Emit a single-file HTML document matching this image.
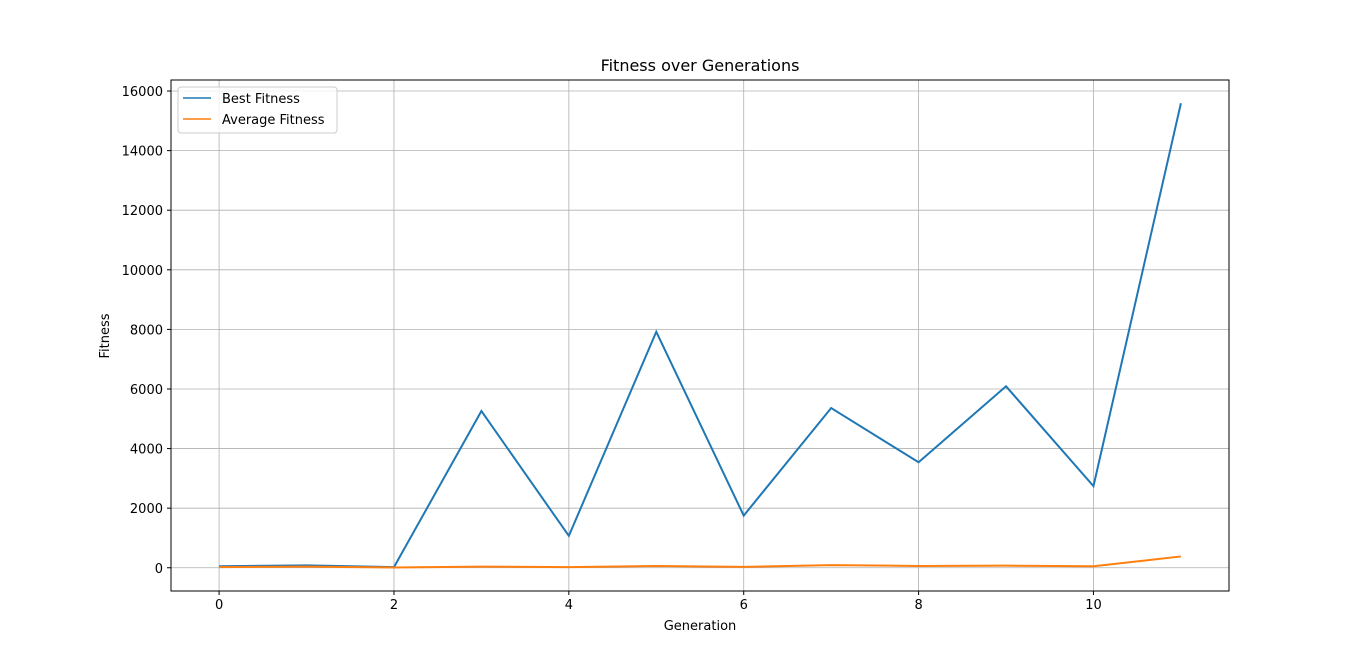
<!DOCTYPE html>
<html><head><meta charset="utf-8"><style>
body{margin:0;background:#fff;}
svg text{font-family:"DejaVu Sans","Liberation Sans",sans-serif;}
</style></head><body>
<svg id="chart" width="1366" height="663" xmlns="http://www.w3.org/2000/svg">
<rect width="1366" height="663" fill="#fff"/>
<g id="grid"></g>
<g id="series"></g>
<rect x="171" y="80" width="1058" height="511" fill="none" stroke="#000" stroke-width="1"/>
<g id="ticks"></g>
<text x="700" y="71" font-size="16" text-anchor="middle">Fitness over Generations</text>
<text x="700" y="630" font-size="13" text-anchor="middle">Generation</text>
<text x="109" y="336" font-size="13" text-anchor="middle" transform="rotate(-90 109 336)">Fitness</text>
<g>
<rect x="178" y="87" width="159" height="46" rx="3" fill="#fff" fill-opacity="0.8" stroke="#ccc"/>
<g><line x1="183" y1="98" x2="211" y2="98" stroke="#1f77b4" stroke-width="1.5"/><text x="222" y="103" font-size="13">Best Fitness</text></g>
<g><line x1="183" y1="119" x2="211" y2="119" stroke="#ff7f0e" stroke-width="1.5"/><text x="222" y="124" font-size="13">Average Fitness</text></g>
</g>
</svg>
<script>
const generations=[0,1,2,3,4,5,6,7,8,9,10,11];
const bestFitness=[50,80,20,5260,1070,7920,1750,5360,3540,6090,2740,15590];
const avgFitness=[20,40,10,40,20,60,30,90,60,70,50,380];
const xTicks=[0,2,4,6,8,10];
const yTicks=[0,2000,4000,6000,8000,10000,12000,14000,16000];
const ns="http://www.w3.org/2000/svg";
const L=171,R=1229,T=80,B=591;
const xMin=-0.55,xMax=11.55,yMin=-780,yMax=16370;
const xs=v=>L+(v-xMin)/(xMax-xMin)*(R-L);
const ys=v=>B-(v-yMin)/(yMax-yMin)*(B-T);
function mk(t,a,p){const e=document.createElementNS(ns,t);for(const k in a)e.setAttribute(k,a[k]);p.appendChild(e);return e;}
const grid=document.getElementById('grid'),ticks=document.getElementById('ticks'),series=document.getElementById('series');
xTicks.forEach(v=>{const x=xs(v);
const g=mk('line',{x1:x,x2:x,y1:T,y2:B,stroke:'#b0b0b0','stroke-width':0.8},grid);

mk('line',{x1:x,x2:x,y1:B,y2:B+4,stroke:'#000'},ticks);
const t=mk('text',{x:x,y:B+18,'font-size':13,'text-anchor':'middle'},ticks);t.textContent=v;
});
yTicks.forEach(v=>{const y=ys(v);
const g=mk('line',{x1:L,x2:R,y1:y,y2:y,stroke:'#b0b0b0','stroke-width':0.8},grid);

mk('line',{x1:L-4,x2:L,y1:y,y2:y,stroke:'#000'},ticks);
const t=mk('text',{x:L-8,y:y+5,'font-size':13,'text-anchor':'end'},ticks);t.textContent=v;
});
function line(vals,color,name){const p=mk('polyline',{points:vals.map((v,i)=>xs(generations[i])+','+ys(v)).join(' '),fill:'none',stroke:color,'stroke-width':2},series);
}
line(bestFitness,'#1f77b4','best-fitness-line');
line(avgFitness,'#ff7f0e','average-fitness-line');
</script>
</body></html>
